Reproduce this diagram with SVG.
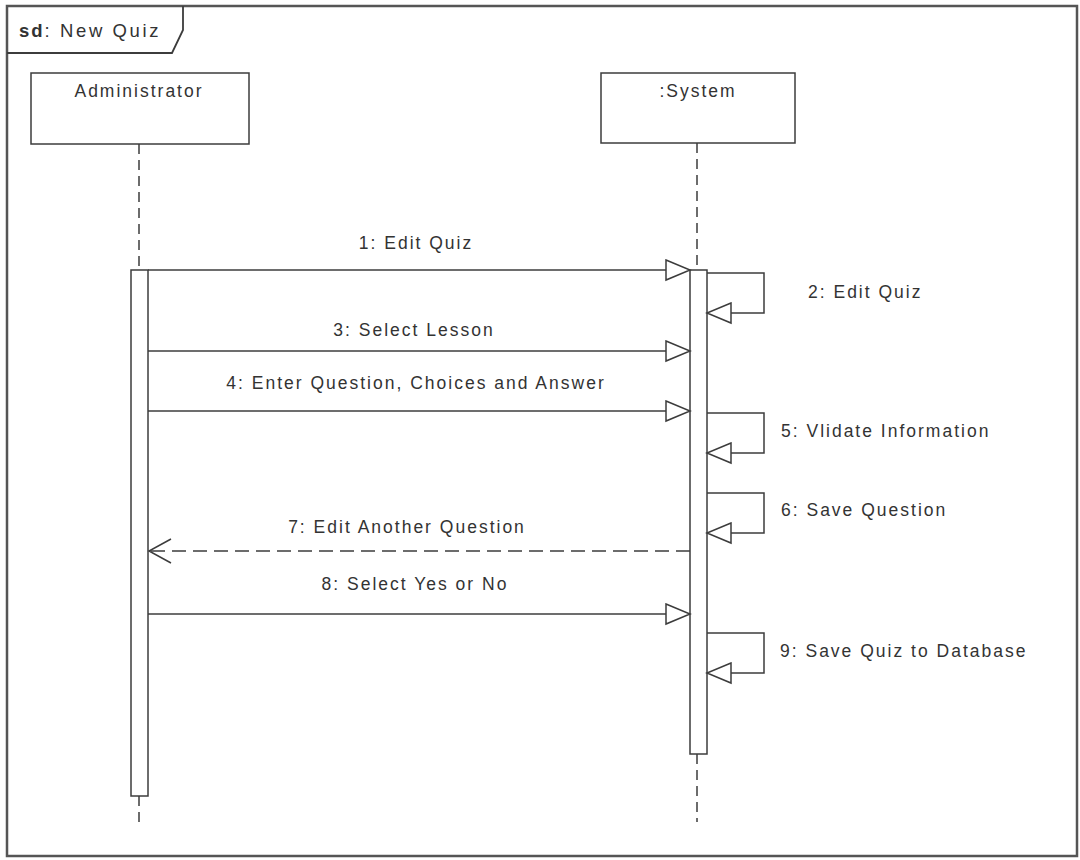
<svg xmlns="http://www.w3.org/2000/svg" width="1080" height="860" viewBox="0 0 1080 860">
  <style>
    .ln { stroke: #3c3c3c; stroke-width: 1.5; fill: none; }
    .life { stroke: #3c3c3c; stroke-width: 1.5; stroke-dasharray: 10 6; fill: none; }
    .box { stroke: #3c3c3c; stroke-width: 1.5; fill: #ffffff; }
    .head { stroke: #3c3c3c; stroke-width: 1.5; fill: #ffffff; }
    .t { font-family: "Liberation Sans", Arial, sans-serif; font-size: 17.5px; fill: #333333; letter-spacing: 2px; }
    .c { text-anchor: middle; }
  </style>
  <rect x="0" y="0" width="1080" height="860" fill="#ffffff"/>

  <!-- frame -->
  <g id="frame">
    <rect x="7" y="6" width="1070" height="850" fill="none" stroke="#555555" stroke-width="2.5"/>
    <path d="M7,53 L172,53 L183,30 L183,6" fill="none" stroke="#3c3c3c" stroke-width="1.8"/>
    <text x="19" y="37" style="font-family: 'Liberation Sans', Arial, sans-serif; font-size: 18.5px; fill: #333333;"><tspan font-weight="bold" letter-spacing="2">sd</tspan><tspan letter-spacing="2.6">: New Quiz</tspan></text>
  </g>

  <!-- lifelines -->
  <g id="admin">
    <rect class="box" x="31" y="73" width="218" height="71"/>
    <text class="t c" x="139" y="97">Administrator</text>
    <line class="life" x1="139" y1="144" x2="139" y2="270"/>
    <line class="life" x1="139" y1="796" x2="139" y2="822"/>
    <rect class="box" x="131" y="270" width="17" height="526"/>
  </g>
  <g id="system">
    <rect class="box" x="601" y="73" width="194" height="70"/>
    <text class="t c" x="698" y="97">:System</text>
    <line class="life" x1="697" y1="143" x2="697" y2="270"/>
    <line class="life" x1="697" y1="754" x2="697" y2="822"/>
    <rect class="box" x="690" y="270" width="17" height="484"/>
  </g>

  <!-- connectors -->
  <g id="connectors">
    <!-- 1 -->
    <line class="ln" x1="148" y1="270" x2="666" y2="270"/>
    <polygon class="head" points="666,260 690,270 666,280"/>
    <!-- 2 self -->
    <polyline class="ln" points="707,273 764,273 764,313 731,313"/>
    <polygon class="head" points="731,303 707,313 731,323"/>
    <!-- 3 -->
    <line class="ln" x1="148" y1="351" x2="666" y2="351"/>
    <polygon class="head" points="666,341 690,351 666,361"/>
    <!-- 4 -->
    <line class="ln" x1="148" y1="411" x2="666" y2="411"/>
    <polygon class="head" points="666,401 690,411 666,421"/>
    <!-- 5 self -->
    <polyline class="ln" points="707,413 764,413 764,453 731,453"/>
    <polygon class="head" points="731,443 707,453 731,463"/>
    <!-- 6 self -->
    <polyline class="ln" points="707,493 764,493 764,533 731,533"/>
    <polygon class="head" points="731,523 707,533 731,543"/>
    <!-- 7 return -->
    <line class="ln" x1="690" y1="551" x2="150" y2="551" stroke-dasharray="14 7"/>
    <polyline class="ln" points="171,539 149,551 171,563"/>
    <!-- 8 -->
    <line class="ln" x1="148" y1="614" x2="666" y2="614"/>
    <polygon class="head" points="666,604 690,614 666,624"/>
    <!-- 9 self -->
    <polyline class="ln" points="707,633 764,633 764,673 731,673"/>
    <polygon class="head" points="731,663 707,673 731,683"/>
  </g>

  <!-- labels -->
  <g id="labels">
    <text class="t c" x="416" y="249">1: Edit Quiz</text>
    <text class="t" x="808" y="298">2: Edit Quiz</text>
    <text class="t c" x="414" y="336">3: Select Lesson</text>
    <text class="t c" x="416" y="389">4: Enter Question, Choices and Answer</text>
    <text class="t" x="781" y="437">5: Vlidate Information</text>
    <text class="t" x="781" y="516">6: Save Question</text>
    <text class="t c" x="407" y="533">7: Edit Another Question</text>
    <text class="t c" x="415" y="590">8: Select Yes or No</text>
    <text class="t" x="780" y="657">9: Save Quiz to Database</text>
  </g>
</svg>
